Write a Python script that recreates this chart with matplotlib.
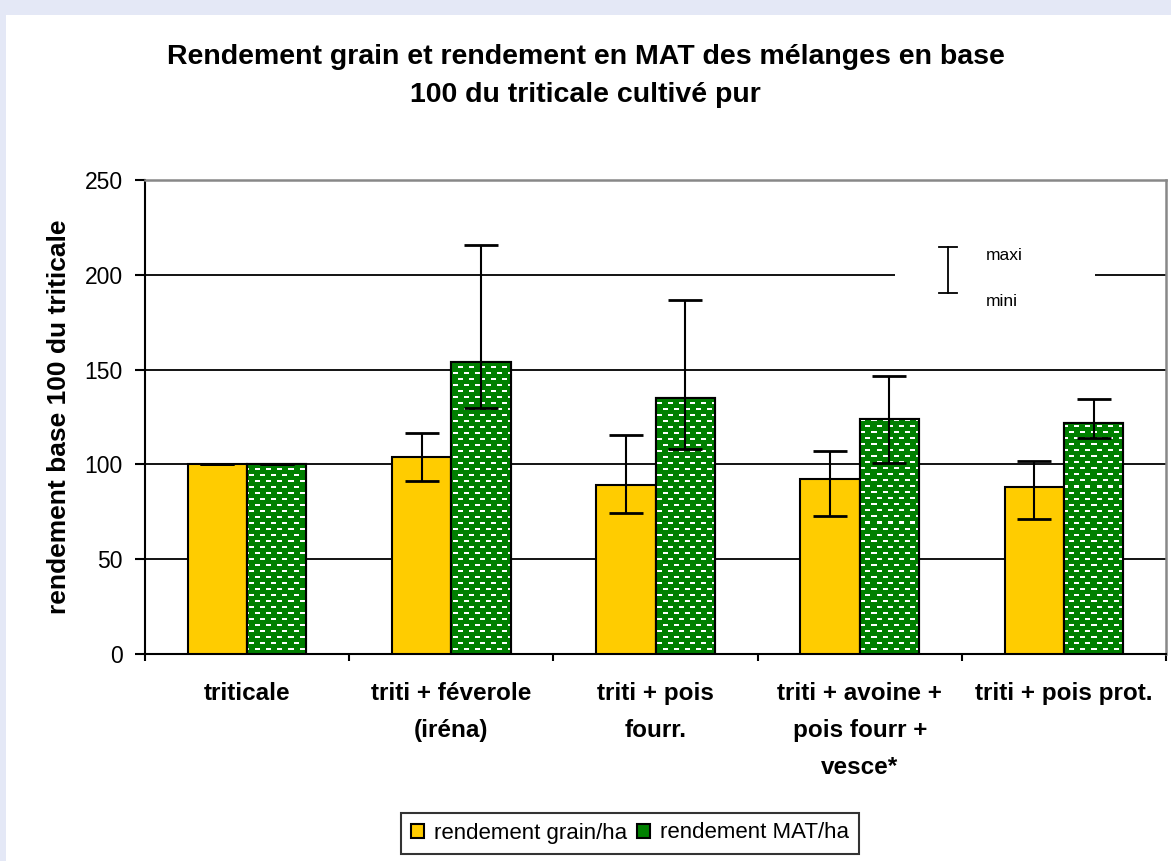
import numpy as np
import matplotlib.pyplot as plt
from matplotlib.patches import Rectangle

plt.rcParams['font.family'] = ['Liberation Sans', 'DejaVu Sans']

# data
categories = ['triticale', 'triti + féverole\n(iréna)', 'triti + pois\nfourr.',
              'triti + avoine +\npois fourr +\nvesce*', 'triti + pois prot.']
grain = [100, 104, 89, 92.5, 88]
grain_min = [100, 91.5, 74.5, 73, 71]
grain_max = [100, 116.5, 115.5, 107, 102]
mat = [100, 154, 135, 124, 122]
mat_min = [100, 130, 108, 101, 114]
mat_max = [100, 215.5, 186.5, 146.5, 134.5]
y_ticks = [0, 50, 100, 150, 200, 250]

yellow = '#FFCC00'
green = '#008000'

fig = plt.figure(figsize=(11.71, 8.61), dpi=100)
fig.patch.set_facecolor('#e4e8f6')
fig.add_artist(Rectangle((6 / 1171, 0), 1, 1 - 15 / 861, transform=fig.transFigure,
                         facecolor='white', edgecolor='none', zorder=0))

ax = fig.add_axes([145 / 1171, 1 - 654 / 861, (1166 - 145) / 1171, (654 - 180) / 861])
ax.set_facecolor('white')

x = np.arange(len(categories))
w = 0.29

bars_g = ax.bar(x - w / 2, grain, w, color=yellow, edgecolor='black', linewidth=1.5, zorder=3,
                label='rendement grain/ha')
bars_m = ax.bar(x + w / 2, mat, w, color=green, edgecolor='black', linewidth=1.5, zorder=3,
                label='rendement MAT/ha')

# dashed white pattern inside the MAT bars
H, W = 474, 1021
pat = np.zeros((H, W, 3))
pat[:] = [0, 0.5, 0]
for r in range(0, H, 6):
    off = 0 if (r // 6) % 2 == 0 else 5
    for c in range(off, W, 11):
        pat[r:r + 2, c:c + 5] = 1.0
for b in bars_m:
    im = ax.imshow(pat, extent=(0, 1, 0, 1), transform=ax.transAxes, aspect='auto',
                   interpolation='nearest', zorder=3.5)
    im.set_clip_path(b)
    ax.add_patch(Rectangle(b.get_xy(), b.get_width(), b.get_height(), facecolor='none',
                           edgecolor='black', linewidth=1.5, zorder=3.6))

g = np.array(grain)
m = np.array(mat)
ax.errorbar(x - w / 2, g, yerr=[g - np.array(grain_min), np.array(grain_max) - g], fmt='none',
            ecolor='black', elinewidth=1.5, capsize=12, capthick=2, zorder=4)
ax.errorbar(x + w / 2, m, yerr=[m - np.array(mat_min), np.array(mat_max) - m], fmt='none',
            ecolor='black', elinewidth=1.5, capsize=12, capthick=2, zorder=4)

ax.set_xlim(-0.5, len(categories) - 0.5)
ax.set_ylim(0, 250)
ax.set_yticks(y_ticks)
ax.set_yticklabels([str(t) for t in y_ticks], fontsize=16.5)
for t in y_ticks[1:-1]:
    ax.axhline(t, color='black', linewidth=1.3, zorder=1)

ax.set_xticks(np.arange(len(categories) + 1) - 0.5)
ax.set_xticklabels([''] * (len(categories) + 1))
ax.set_xticks(x, minor=True)
ax.set_xticklabels(categories, minor=True, fontsize=17.5, fontweight='bold', linespacing=1.78,
                   va='top')
ax.tick_params(axis='x', which='major', length=5, width=1.5, direction='out')
ax.tick_params(axis='x', which='minor', length=0, pad=20)
ax.tick_params(axis='y', length=7, width=1.5, direction='out', pad=9)

for s in ['left', 'bottom']:
    ax.spines[s].set_color('black')
    ax.spines[s].set_linewidth(1.5)
for s in ['top', 'right']:
    ax.spines[s].set_color('#888888')
    ax.spines[s].set_linewidth(1.8)

ax.set_ylabel('rendement base 100 du triticale', fontsize=19, fontweight='bold', labelpad=10)

fig.text(0.5, 1 - 76 / 861, 'Rendement grain et rendement en MAT des mélanges en base\n'
         '100 du triticale cultivé pur', ha='center', va='center', fontsize=20.5,
         fontweight='bold', linespacing=1.55)

# min/max key box
ax.add_patch(Rectangle((0.735, 0.7), 0.195, 0.14, transform=ax.transAxes, facecolor='white',
                       edgecolor='none', zorder=2))
kx = (948 - 145) / 1021
ax.plot([kx, kx], [(654 - 293) / 474, (654 - 247) / 474], transform=ax.transAxes,
        color='black', lw=1.3, zorder=5)
for yy in [(654 - 293) / 474, (654 - 247) / 474]:
    ax.plot([kx - 0.009, kx + 0.009], [yy, yy], transform=ax.transAxes, color='black', lw=1.3,
            zorder=5)
ax.text((986 - 145) / 1021, (654 - 255) / 474, 'maxi', transform=ax.transAxes, fontsize=12.5,
        va='center', zorder=5)
ax.text((986 - 145) / 1021, (654 - 302) / 474, 'mini', transform=ax.transAxes, fontsize=12.5,
        va='center', zorder=5)

leg = fig.legend(handles=[bars_g, bars_m], loc='center', bbox_to_anchor=(630 / 1171, 1 - 833 / 861),
                 ncol=2, fontsize=16, frameon=True, fancybox=False, edgecolor='black',
                 handlelength=0.6, handleheight=0.6, handletextpad=0.45, columnspacing=0.45,
                 borderpad=0.45)
leg.get_frame().set_linewidth(1.5)

fig.savefig('out.png', dpi=100, facecolor=fig.get_facecolor())
